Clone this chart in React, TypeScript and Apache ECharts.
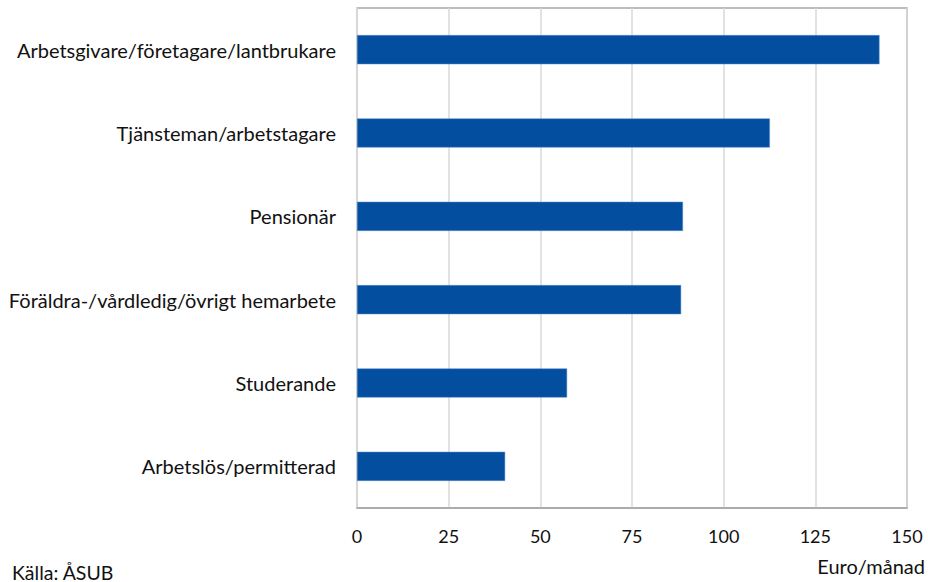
import React, { useEffect, useRef } from "react";
import * as echarts from "echarts";

const categories = [
  "Arbetsgivare/företagare/lantbrukare",
  "Tjänsteman/arbetstagare",
  "Pensionär",
  "Föräldra-/vårdledig/övrigt hemarbete",
  "Studerande",
  "Arbetslös/permitterad",
];
const values = [142.5, 112.6, 88.9, 88.4, 57.3, 40.4];
const xTicks = { min: 0, max: 150, interval: 25 };
const unitLabel = "Euro/månad";
const sourceLabel = "Källa: ÅSUB";

const FONT = "Lato, 'Open Sans', sans-serif";

export default function App() {
  const ref = useRef<HTMLDivElement>(null);
  useEffect(() => {
    if (!ref.current) return;
    const chart = echarts.init(ref.current, null, { renderer: "svg" });
    chart.setOption({
      animation: false,
      backgroundColor: "#ffffff",
      textStyle: { fontFamily: FONT },
      grid: {
        left: 357,
        right: 21,
        top: 8,
        bottom: 74,
        show: true,
        borderColor: "#a6a6a6",
        borderWidth: 1.5,
        backgroundColor: "transparent",
      },
      xAxis: {
        type: "value",
        min: xTicks.min,
        max: xTicks.max,
        interval: xTicks.interval,
        axisLine: { show: true, lineStyle: { color: "#a6a6a6", width: 1.5 } },
        axisTick: { show: false },
        splitLine: { show: true, lineStyle: { color: "#d9d9d9", width: 1.5 } },
        axisLabel: { color: "#111", fontSize: 18, fontFamily: FONT, margin: 19 },
      },
      yAxis: {
        type: "category",
        data: categories,
        inverse: true,
        axisLine: { show: true, lineStyle: { color: "#d9d9d9", width: 1.5 } },
        axisTick: { show: false },
        axisLabel: { color: "#111", fontSize: 20, fontFamily: FONT, margin: 21 },
      },
      series: [
        {
          type: "bar",
          data: values,
          barWidth: "35%",
          itemStyle: { color: "#044ea0", borderColor: "#5b8fcf", borderWidth: 0.5 },
        },
      ],
      graphic: [
        {
          type: "text",
          right: 3,
          top: 556,
          style: { text: unitLabel, fontSize: 20, fontFamily: FONT, fill: "#111" },
        },
        {
          type: "text",
          left: 12,
          top: 562,
          style: { text: sourceLabel, fontSize: 19.5, fontFamily: FONT, fill: "#111" },
        },
      ],
    });
    return () => chart.dispose();
  }, []);
  return <div ref={ref} style={{ width: 928, height: 582, position: "fixed", left: 0, top: 0 }} />;
}
